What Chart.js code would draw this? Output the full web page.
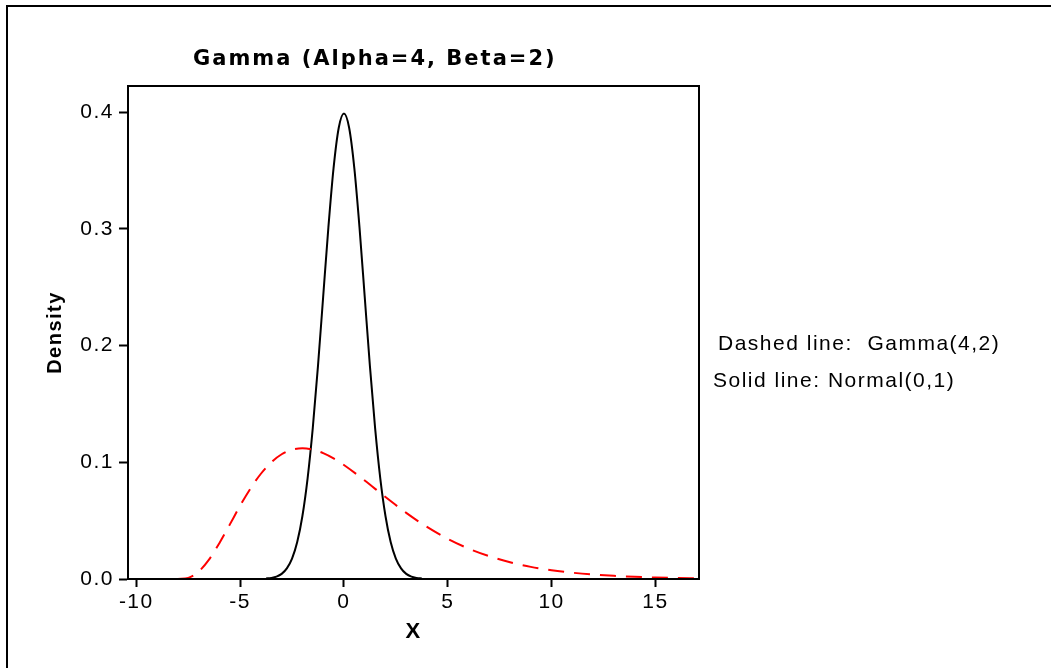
<!DOCTYPE html>
<html>
<head>
<meta charset="utf-8">
<title>Gamma (Alpha=4, Beta=2)</title>
<script src="https://cdn.jsdelivr.net/npm/chart.js@4.4.1/dist/chart.umd.min.js"></script>
<style>
  html, body { margin: 0; padding: 0; background: #ffffff; overflow: hidden; }
  #densityChart { display: block; }
</style>
</head>
<body>
<canvas id="densityChart" width="1051" height="668"></canvas>
<script>
// --- DATA ---
const normalX = [-3.75, -3.5, -3.25, -3, -2.75, -2.5, -2.25, -2, -1.75, -1.5, -1.25, -1, -0.75, -0.5, -0.25,
  0, 0.25, 0.5, 0.75, 1, 1.25, 1.5, 1.75, 2, 2.25, 2.5, 2.75, 3, 3.25, 3.5, 3.75];
const normalY = [0.0004, 0.0009, 0.0020, 0.0044, 0.0091, 0.0175, 0.0317, 0.0540, 0.0863, 0.1295, 0.1826, 0.2420, 0.3011, 0.3521, 0.3867,
  0.3989, 0.3867, 0.3521, 0.3011, 0.2420, 0.1826, 0.1295, 0.0863, 0.0540, 0.0317, 0.0175, 0.0091, 0.0044, 0.0020, 0.0009, 0.0004];

const gammaX = [-8, -7.5, -7, -6.5, -6, -5.5, -5, -4.5, -4, -3.5, -3, -2.5, -2, -1.5, -1, -0.5,
  0, 1, 2, 3, 4, 5, 6, 7, 8, 9, 10, 11, 12, 13, 14, 15, 16, 17];
const gammaY = [0, 0.0010, 0.0063, 0.0166, 0.0307, 0.0466, 0.0628, 0.0776, 0.0902, 0.1000, 0.1069, 0.1108, 0.1120, 0.1109, 0.1079, 0.1034,
  0.0977, 0.0844, 0.0702, 0.0567, 0.0446, 0.0344, 0.0261, 0.0195, 0.0143, 0.0104, 0.0075, 0.0054, 0.0038, 0.0027, 0.0019, 0.0013, 0.0009, 0.0006];

const xTicks = [-10, -5, 0, 5, 10, 15];
const yTicks = [0, 0.1, 0.2, 0.3, 0.4];

const chartTitle = 'Gamma (Alpha=4, Beta=2)';
const noteLines = ['Dashed line:  Gamma(4,2)', 'Solid line: Normal(0,1)'];

const FONT = '"Liberation Sans", Arial, sans-serif';
const TITLE_FONT = '"DejaVu Sans", Verdana, sans-serif';

// --- HELPERS ---
function toPoints(xs, ys) {
  return xs.map((x, i) => ({ x: x, y: ys[i] }));
}

// frame, title and side notes are painted by hand around the library output
const decorPlugin = {
  id: 'decor',
  beforeDraw(chart) {
    const ctx = chart.ctx;
    ctx.save();
    ctx.strokeStyle = '#000';
    ctx.lineWidth = 2;
    ctx.strokeRect(7, 6, 2000, 2000);
    ctx.restore();
    ctx.letterSpacing = '1.5px';
  },
  afterDraw(chart) {
    const ctx = chart.ctx;
    const area = chart.chartArea;
    ctx.save();
    ctx.letterSpacing = '0px';
    ctx.strokeStyle = '#000';
    ctx.lineWidth = 2;
    ctx.strokeRect(area.left, area.top, area.right - area.left, area.bottom - area.top);

    ctx.fillStyle = '#000';
    ctx.textBaseline = 'middle';
    ctx.textAlign = 'left';
    ctx.letterSpacing = '2px';
    ctx.font = 'bold 21px ' + TITLE_FONT;
    ctx.fillText(chartTitle, 193, 60);

    ctx.letterSpacing = '1.5px';
    ctx.font = '21px ' + FONT;
    ctx.fillText(noteLines[0], 718, 344);
    ctx.fillText(noteLines[1], 713, 381);
    ctx.restore();
  }
};

// --- CHART ---
new Chart(document.getElementById('densityChart'), {
  type: 'scatter',
  data: {
    datasets: [
      {
        label: 'Gamma(4,2)',
        data: toPoints(gammaX, gammaY),
        showLine: true,
        borderColor: '#ff0000',
        borderWidth: 2,
        borderDash: [16, 10],
        cubicInterpolationMode: 'monotone',
        pointRadius: 0
      },
      {
        label: 'Normal(0,1)',
        data: toPoints(normalX, normalY),
        showLine: true,
        borderColor: '#000000',
        borderWidth: 2,
        cubicInterpolationMode: 'monotone',
        pointRadius: 0
      }
    ]
  },
  options: {
    responsive: false,
    animation: false,
    devicePixelRatio: 1,
    layout: { padding: { left: 0, right: 352, top: 86, bottom: 0 } },
    plugins: {
      legend: { display: false },
      tooltip: { enabled: false }
    },
    scales: {
      x: {
        type: 'linear',
        min: -10.4,
        max: 17.1,
        afterFit: (scale) => { scale.height = 89; },
        afterBuildTicks: (scale) => { scale.ticks = xTicks.map(v => ({ value: v })); },
        border: { display: true, color: '#000', width: 2 },
        grid: { drawOnChartArea: false, tickLength: 8, tickColor: '#000', tickWidth: 2 },
        ticks: {
          color: '#000',
          padding: 3,
          maxRotation: 0,
          font: { family: FONT, size: 21 },
          callback: (v) => String(v)
        },
        title: {
          display: true,
          text: 'X',
          color: '#000',
          font: { family: FONT, size: 22, weight: 'bold' },
          padding: { top: 0, bottom: 23 }
        }
      },
      y: {
        type: 'linear',
        min: 0,
        max: 0.4225,
        afterFit: (scale) => { scale.width = 128; },
        afterBuildTicks: (scale) => { scale.ticks = yTicks.map(v => ({ value: v })); },
        border: { display: true, color: '#000', width: 2 },
        grid: { drawOnChartArea: false, tickLength: 9, tickColor: '#000', tickWidth: 2 },
        ticks: {
          color: '#000',
          padding: 5,
          font: { family: FONT, size: 21 },
          callback: (v) => v.toFixed(1)
        },
        title: {
          display: true,
          text: 'Density',
          color: '#000',
          font: { family: FONT, size: 20, weight: 'bold' },
          padding: { top: 43, bottom: 0 }
        }
      }
    }
  },
  plugins: [decorPlugin]
});
</script>
</body>
</html>
